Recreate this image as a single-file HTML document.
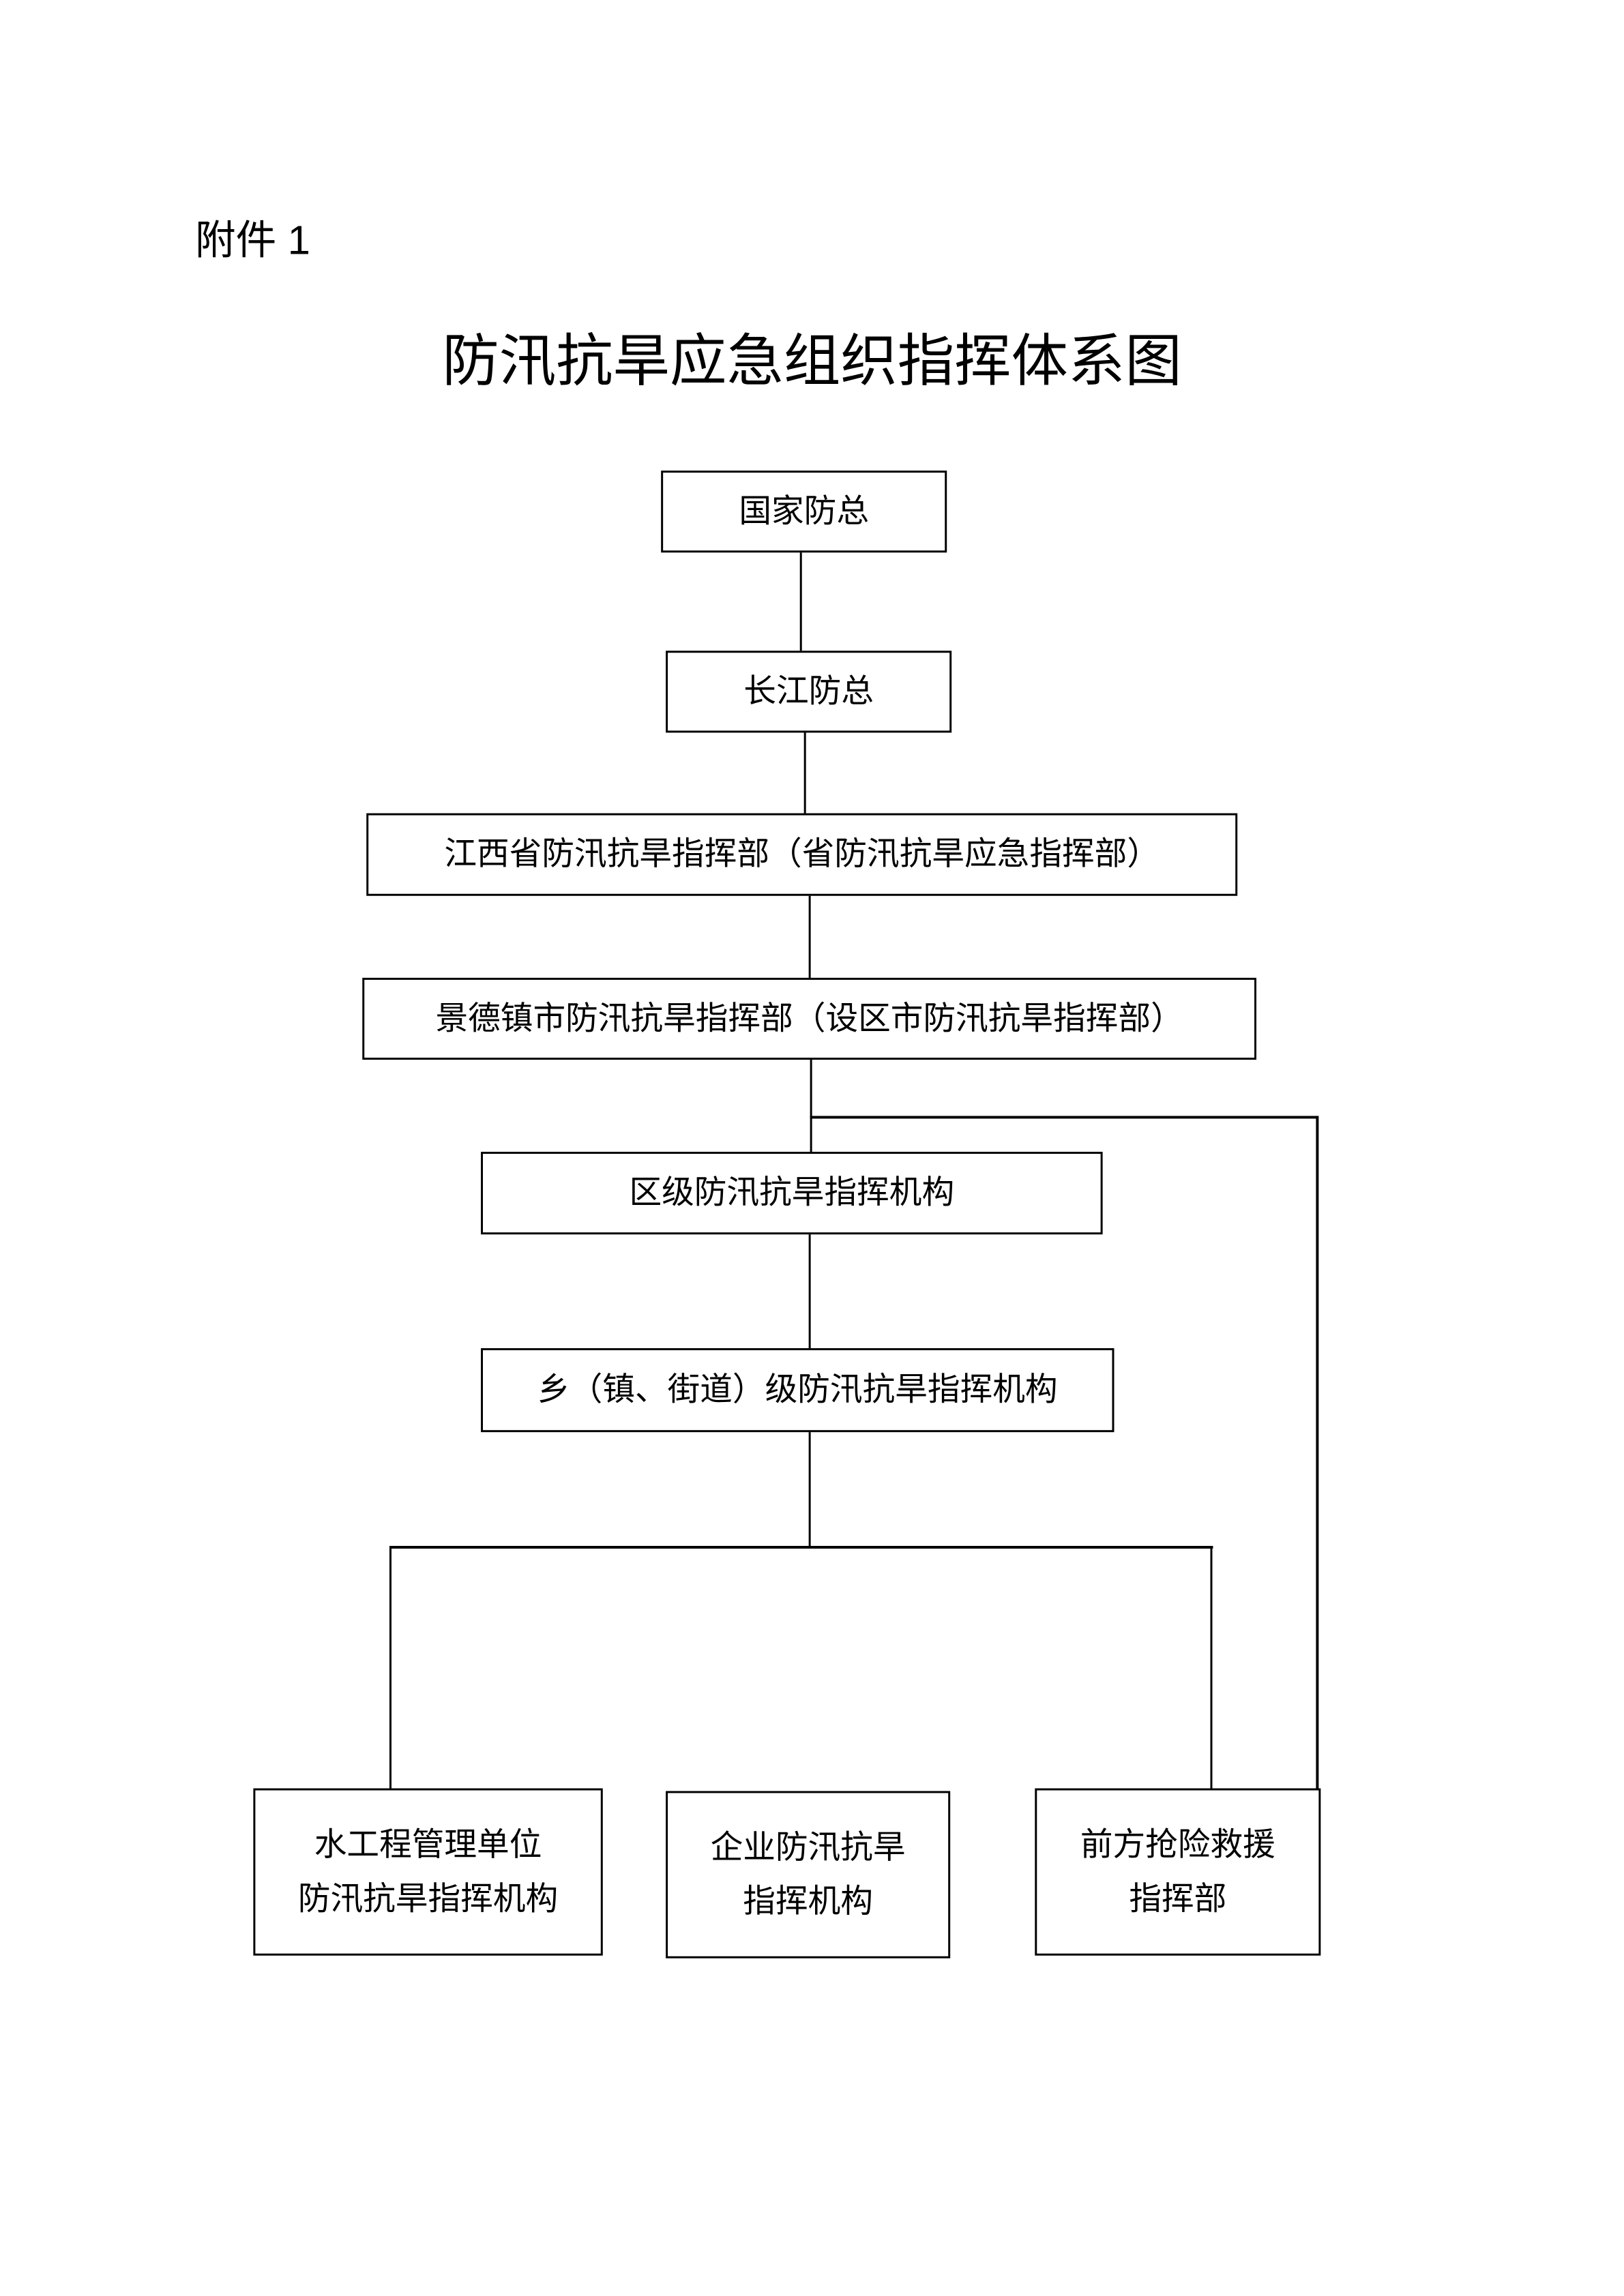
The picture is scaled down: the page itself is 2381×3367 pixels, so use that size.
<!DOCTYPE html>
<html><head><meta charset="utf-8"><style>
body{margin:0;background:#fff}
#o{position:relative;width:2381px;height:3367px;overflow:hidden}
#c{position:absolute;left:0;top:0;width:2381px;height:3367px;transform:scale(0.993);transform-origin:0 0;font-family:"Liberation Sans","Noto Sans CJK SC",sans-serif;color:#000}
.b{position:absolute;border:3px solid #000;box-sizing:border-box;display:flex;align-items:center;justify-content:center;text-align:center;font-size:48px;line-height:80px;white-space:nowrap}
.l{position:absolute;background:#000}
</style></head><body><div id="o"><div id="c">
<div style="position:absolute;left:288px;top:306px;font-size:60px">附件 1</div>
<div style="position:absolute;left:0;width:2398px;top:478px;text-align:center;font-size:84px;line-height:110px">防汛抗旱应急组织指挥体系图</div>

<div class="b" style="left:976px;top:695px;width:422px;height:121px">国家防总</div>
<div class="l" style="left:1181px;top:816px;width:3px;height:145px"></div>
<div class="b" style="left:983px;top:961px;width:422px;height:121px">长江防总</div>
<div class="l" style="left:1187px;top:1082px;width:3px;height:119px"></div>
<div class="b" style="left:541px;top:1201px;width:1286px;height:122px">江西省防汛抗旱指挥部（省防汛抗旱应急指挥部）</div>
<div class="l" style="left:1194px;top:1323px;width:3px;height:121px"></div>
<div class="b" style="left:535px;top:1444px;width:1320px;height:121px">景德镇市防汛抗旱指挥部（设区市防汛抗旱指挥部）</div>
<div class="l" style="left:1196px;top:1565px;width:3px;height:136px"></div>
<div class="l" style="left:1196px;top:1648px;width:750px;height:4px"></div>
<div class="l" style="left:1943px;top:1648px;width:4px;height:993px"></div>
<div class="b" style="left:710px;top:1701px;width:918px;height:122px">区级防汛抗旱指挥机构</div>
<div class="l" style="left:1194px;top:1823px;width:3px;height:168px"></div>
<div class="b" style="left:710px;top:1991px;width:935px;height:124px">乡（镇、街道）级防汛抗旱指挥机构</div>
<div class="l" style="left:1194px;top:2115px;width:3px;height:169px"></div>
<div class="l" style="left:575px;top:2283px;width:1216px;height:4px"></div>
<div class="l" style="left:575px;top:2283px;width:3px;height:358px"></div>
<div class="l" style="left:1787px;top:2283px;width:3px;height:358px"></div>
<div class="b" style="left:374px;top:2641px;width:516px;height:247px">水工程管理单位<br>防汛抗旱指挥机构</div>
<div class="b" style="left:983px;top:2645px;width:420px;height:247px">企业防汛抗旱<br>指挥机构</div>
<div class="b" style="left:1528px;top:2641px;width:422px;height:247px">前方抢险救援<br>指挥部</div>
</div></div></body></html>
